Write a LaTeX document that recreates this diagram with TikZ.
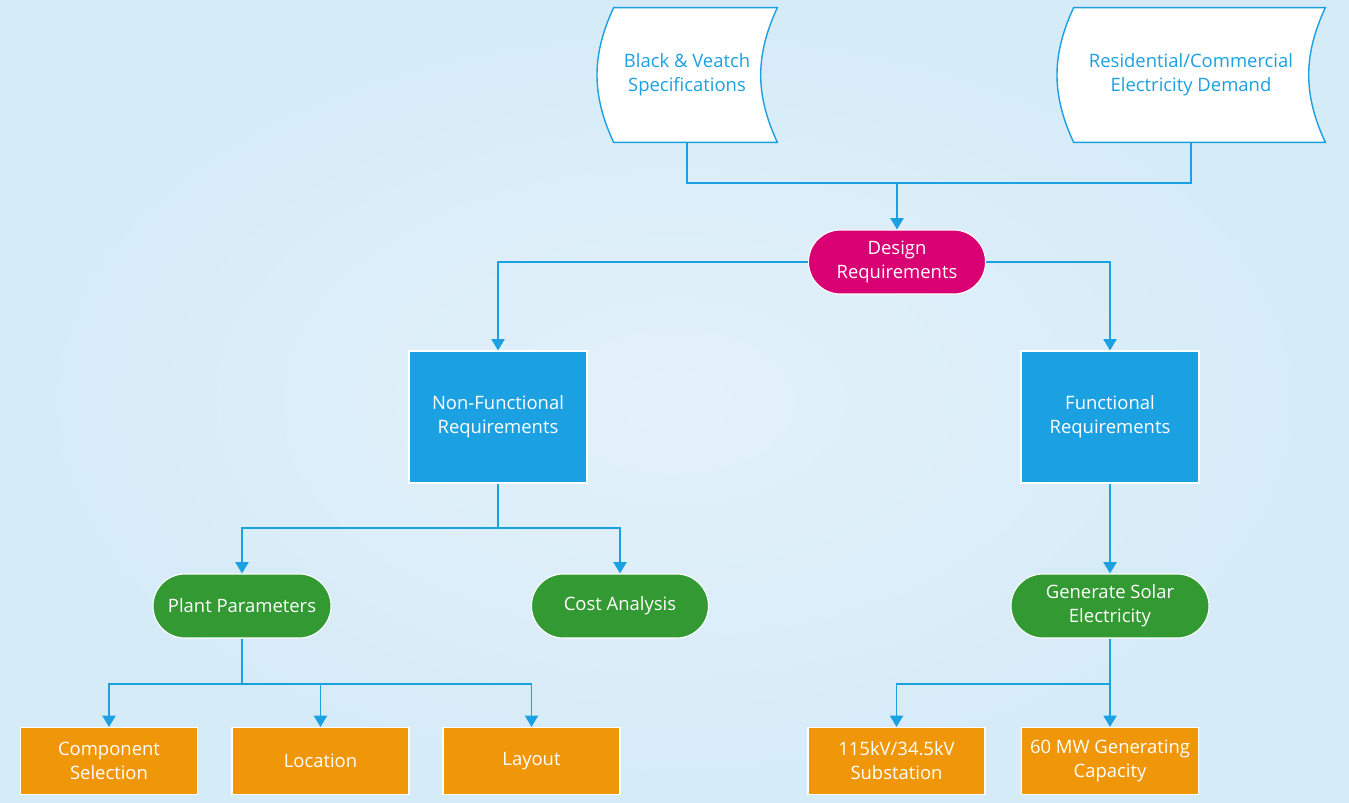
\documentclass[tikz,border=0pt]{standalone}
\usepackage{fontspec}
\setmainfont{Open Sans}
\usepackage{xcolor}
\definecolor{reqPink}{HTML}{D80073}
\definecolor{reqBlue}{HTML}{1BA1E2}
\definecolor{reqGreen}{HTML}{339933}
\definecolor{reqOrange}{HTML}{F09609}
\definecolor{bgInner}{HTML}{E3F1FA}
\definecolor{bgOuter}{HTML}{D5EBF8}
\usepackage{tikz}
\usetikzlibrary{arrows.meta,calc,backgrounds}
\tikzset{
    box/.style={
        rectangle,
        draw=white,
        line width=0.6pt,
        align=center,
        inner sep=0pt,
        text=white,
        font=\fontsize{10.5}{13.7}\selectfont
    },
    pill/.style={
        box,
        rounded corners=0.64cm,
        minimum height=1.28cm
    },
    design/.style={pill, fill=reqPink, minimum width=3.54cm},
    category/.style={box, fill=reqBlue, minimum width=3.56cm, minimum height=2.64cm},
    task/.style={pill, fill=reqGreen},
    detail/.style={box, fill=reqOrange, minimum width=3.54cm, minimum height=1.34cm},
    datadoc/.style={
        rectangle,
        inner sep=0pt,
        minimum height=2.68cm,
        align=center,
        text=reqBlue,
        font=\fontsize{10.5}{13.7}\selectfont
    },
    docline/.style={draw=reqBlue, fill=white, line width=0.8pt},
    link/.style={draw=reqBlue, line width=1pt},
    arrowlink/.style={link, -{Triangle[width=7.5pt,length=6.5pt]}}
}
\newcommand{\docframe}[1]{%
    \filldraw[docline] ($(#1.north west)+(0.34,0)$) -- (#1.north east)
        to[bend right=25] (#1.south east) -- ($(#1.south west)+(0.34,0)$)
        to[bend left=25] ($(#1.north west)+(0.34,0)$) -- cycle;}

\begin{document}
\begin{tikzpicture}
    % Background
    \begin{scope}[on background layer]
        \shade[inner color=bgInner, outer color=bgOuter] (0,0) rectangle (26.98,-16.06);
    \end{scope}
    \useasboundingbox (0,0) rectangle (26.98,-16.06);

    % Inputs
    \node[datadoc, minimum width=3.6cm] (bv) at (13.74,-1.50) {Black \& Veatch\\Specifications};
    \node[datadoc, minimum width=5.36cm] (rc) at (23.82,-1.50) {Residential/Commercial\\Electricity Demand};
    \begin{scope}[on background layer]
        \docframe{bv}
        \docframe{rc}
    \end{scope}
    \coordinate (topjoin) at (17.94,-3.66);

    % Design requirements
    \node[design] (dr) at (17.94,-5.24) {Design\\Requirements};

    % Categories
    \node[category] (nf) at (9.96,-8.34) {Non-Functional\\Requirements};
    \node[category] (fr) at (22.20,-8.34) {Functional\\Requirements};
    \coordinate (nfjoin) at (9.96,-10.56);

    % Tasks
    \node[task, minimum width=3.56cm] (pp) at (4.84,-12.12) {Plant Parameters};
    \node[task, minimum width=3.54cm] (ca) at (12.40,-12.12) {Cost Analysis};
    \node[task, minimum width=3.96cm] (gse) at (22.20,-12.12) {Generate Solar\\Electricity};
    \coordinate (ppjoin) at (4.84,-13.68);
    \coordinate (gsejoin) at (22.20,-13.68);

    % Details
    \node[detail] (cs) at (2.18,-15.22) {Component\\Selection};
    \node[detail] (loc) at (6.41,-15.22) {Location};
    \node[detail] (lay) at (10.63,-15.22) {Layout};
    \node[detail] (sub) at (17.93,-15.22) {115kV/34.5kV\\Substation};
    \node[detail] (mw) at (22.20,-15.22) {60 MW Generating\\Capacity};

    % Connectors
    \draw[link] (bv.south) |- (topjoin) -| (rc.south);
    \draw[arrowlink] (topjoin) -- (dr.north);
    \draw[arrowlink] (dr.west) -| (nf.north);
    \draw[arrowlink] (dr.east) -| (fr.north);
    \draw[link] (nf.south) -- (nfjoin);
    \foreach \t in {pp,ca}
        \draw[arrowlink] (nfjoin) -| (\t.north);
    \draw[arrowlink] (fr.south) -- (gse.north);
    \draw[link] (pp.south) -- (ppjoin);
    \foreach \t in {cs,loc,lay}
        \draw[arrowlink] (ppjoin) -| (\t.north);
    \draw[link] (gse.south) -- (gsejoin);
    \foreach \t in {sub,mw}
        \draw[arrowlink] (gsejoin) -| (\t.north);
\end{tikzpicture}
\end{document}
